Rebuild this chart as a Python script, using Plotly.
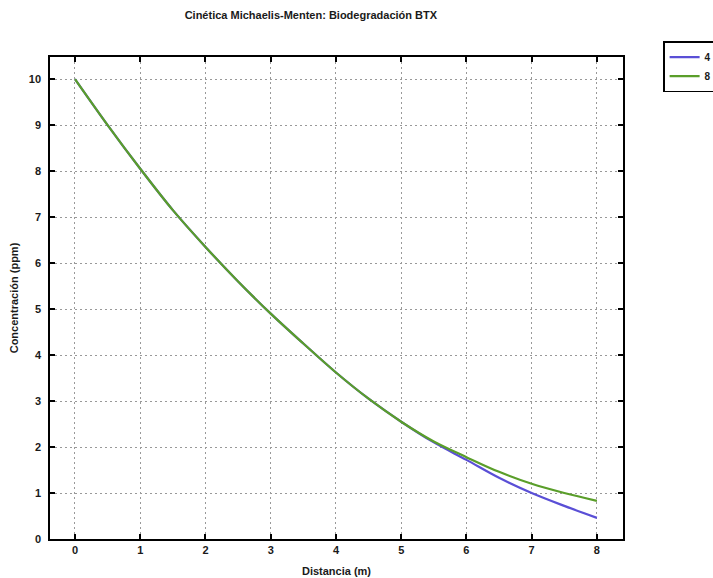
import plotly.graph_objects as go

distancia = [0, 0.5, 1, 1.5, 2, 2.5, 3, 3.5, 4, 4.5, 5, 5.5, 6, 6.5, 7, 7.5, 8]
serie_4 = [10, 9.0, 8.05, 7.15, 6.35, 5.6, 4.9, 4.25, 3.62, 3.05, 2.55, 2.1, 1.72, 1.33, 1.0, 0.72, 0.46]
serie_8 = [10, 9.0, 8.05, 7.15, 6.35, 5.6, 4.9, 4.25, 3.62, 3.05, 2.55, 2.12, 1.78, 1.46, 1.2, 1.0, 0.83]
x_ticks = [0, 1, 2, 3, 4, 5, 6, 7, 8]
y_ticks = [0, 1, 2, 3, 4, 5, 6, 7, 8, 9, 10]

fig = go.Figure()
fig.add_trace(go.Scatter(x=distancia, y=serie_4, mode="lines", name="<b>4</b>",
                         line=dict(color="#5a4fd6", width=2.2, shape="spline")))
fig.add_trace(go.Scatter(x=distancia, y=serie_8, mode="lines", name="<b>8</b>",
                         line=dict(color="#5a9e2a", width=2.2, shape="spline")))

fam = "Liberation Sans, Arial, sans-serif"
font = dict(family=fam, size=11, color="#1a1a1a")

axis_common = dict(showline=True, linecolor="black", linewidth=1.5, mirror="ticks",
                   ticks="inside", ticklen=5, tickcolor="black", tickwidth=1.5,
                   showgrid=True, gridcolor="#999999", griddash="1.5px,3.5px", gridwidth=1.2,
                   zeroline=False, tickfont=font)

fig.update_layout(
    width=713, height=578,
    margin=dict(l=50, r=90, t=57, b=39, autoexpand=False),
    paper_bgcolor="white", plot_bgcolor="white",
    font=font,
    title=dict(text="<b>Cinética Michaelis-Menten: Biodegradación BTX</b>", x=0.436, xanchor="center",
               y=0.974, yanchor="middle", font=font),
    xaxis=dict(range=[-0.383, 8.40], tickvals=x_ticks,
               ticktext=[f"<b>{v}</b>" for v in x_ticks],
               title=dict(text="<b>Distancia (m)</b>", standoff=12, font=font),
               **axis_common),
    yaxis=dict(range=[0, 10.48], tickvals=y_ticks,
               ticktext=[f"<b>{v}</b>" for v in y_ticks],
               ticklabelstandoff=5,
               title=dict(text="<b>Concentración (ppm)</b>", standoff=8, font=font),
               **axis_common),
    legend=dict(x=1.07, y=1.033, xanchor="left", yanchor="top",
                bordercolor="black", borderwidth=1.5, bgcolor="white",
                font=dict(family=fam, size=10, color="#1a1a1a"),
                tracegroupgap=0, itemwidth=30),
    showlegend=True,
)

fig.write_html("out.html")
